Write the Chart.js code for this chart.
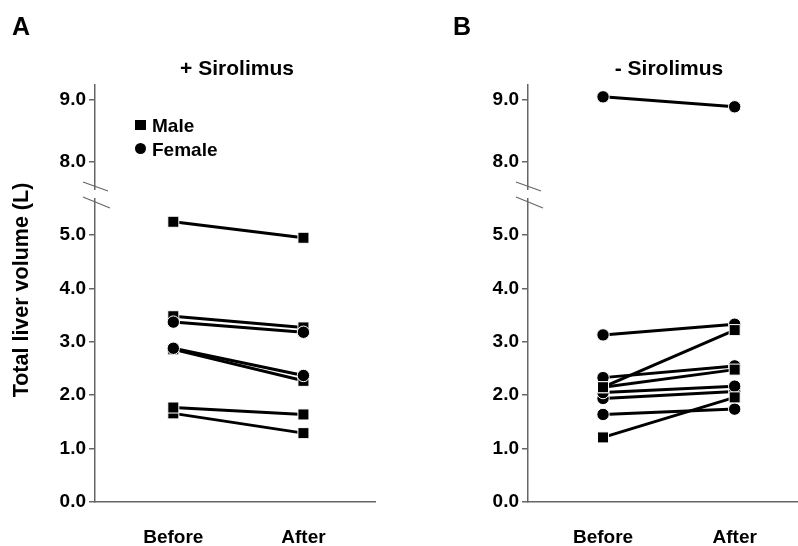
<!DOCTYPE html>
<html><head><meta charset="utf-8">
<script src="https://cdn.jsdelivr.net/npm/chart.js@4.4.0/dist/chart.umd.min.js"></script>
<style>
html,body{margin:0;padding:0;background:#fff;}
#wrap{position:relative;width:798px;height:546px;overflow:hidden;font-family:"Liberation Sans",Arial,sans-serif;font-weight:bold;color:#000;}
canvas{position:absolute;top:0;}
.t{position:absolute;white-space:nowrap;line-height:1;transform:translate(-50%,-50%);}
.l{position:absolute;white-space:nowrap;line-height:1;transform:translateY(-50%);}
</style></head><body>
<div id="wrap">
<canvas id="cA" width="400" height="546" style="left:0px"></canvas>
<canvas id="cB" width="406" height="546" style="left:400px"></canvas>
<div class="t" style="left:21px;top:26px;font-size:25px">A</div>
<div class="t" style="left:462px;top:26px;font-size:25px">B</div>
<div class="t" style="left:237px;top:67px;font-size:21px">+ Sirolimus</div>
<div class="t" style="left:669px;top:67px;font-size:21px">- Sirolimus</div>
<div class="t" style="left:22px;top:290px;font-size:21.5px;transform:translate(-50%,-50%) rotate(-90deg)">Total liver volume (L)</div>
<div style="position:absolute;left:135px;top:120px;width:11px;height:10px;background:#000"></div>
<div style="position:absolute;left:135px;top:143px;width:11px;height:11px;border-radius:50%;background:#000"></div>
<div class="l" style="left:152px;top:125px;font-size:19px">Male</div>
<div class="l" style="left:152px;top:148.5px;font-size:19px">Female</div>
</div>
<script>
// ---- data ----
const categories = ['Before', 'After'];
// + Sirolimus (panel A): [before, after] per patient
const sirolimusMale = [[5.25, 4.95], [3.48, 3.27], [2.86, 2.27], [1.77, 1.64], [1.66, 1.29]];
const sirolimusFemale = [[3.37, 3.18], [2.88, 2.37]];
// - Sirolimus (panel B)
const noSirolimusMale = [[2.15, 3.22], [2.15, 2.48], [1.21, 1.96]];
const noSirolimusFemale = [[3.13, 3.33], [2.33, 2.55], [2.05, 2.17], [1.94, 2.07], [1.64, 1.74], [9.05, 8.89]];
// axis ticks
const lowTicks = [0, 1, 2, 3, 4, 5];
const highTicks = [8, 9];

const LOW_MAX = 5.77, HIGH_MIN = 7.49, HIGH_MAX = 9.24;
const FONT = {family: '"Liberation Sans", Arial, sans-serif', weight: 'bold', size: 19};
const AX = '#666';

const breakPlugin = {
  id: 'axisBreak',
  afterDraw(chart) {
    const ctx = chart.ctx, x = chart.chartArea.left;
    const s = chart.scales.yLow.top;
    ctx.save();
    ctx.fillStyle = '#fff';
    ctx.fillRect(x - 3, s - 4, 6, 8);
    ctx.strokeStyle = AX; ctx.lineWidth = 1.2;
    ctx.beginPath();
    ctx.moveTo(x - 12, s - 12); ctx.lineTo(x + 13, s - 3);
    ctx.moveTo(x - 12, s + 3); ctx.lineTo(x + 15, s + 14);
    ctx.stroke();
    ctx.restore();
  }
};

function makeChart(id, male, female, cfg) {
  const datasets = [];
  const add = (pairs, style, r, ord) => pairs.forEach(p => {
    datasets.push({
      data: categories.map((c, i) => ({x: i, y: p[i]})),
      yAxisID: p[0] > 6 ? 'yHigh' : 'yLow',
      order: ord,
      borderColor: '#000', backgroundColor: '#000', borderWidth: 3,
      pointStyle: style, pointRadius: r, pointBackgroundColor: '#000',
      pointBorderColor: '#fff', pointBorderWidth: 1, clip: false
    });
  });
  add(male, 'rect', 7.8, cfg.femaleTop ? 2 : 1);
  add(female, 'circle', 6.2, cfg.femaleTop ? 1 : 2);
  const yCommon = (ticks) => ({
    type: 'linear', position: 'left', stack: 'y',
    afterBuildTicks: s => { s.ticks = ticks.map(v => ({value: v})); },
    ticks: {callback: v => Number(v).toFixed(1), font: FONT, color: '#000', padding: 3},
    grid: {drawOnChartArea: false, drawTicks: true, tickLength: 6, color: AX, lineWidth: 1.5},
    border: {display: true, color: AX, width: 1.5},
    afterFit: s => { s.width = cfg.yw; }
  });
  return new Chart(document.getElementById(id), {
    type: 'line',
    data: {datasets},
    options: {
      responsive: false, animation: false, events: [], devicePixelRatio: 1,
      layout: {padding: {top: 85, right: cfg.pr, bottom: 0, left: 0}},
      plugins: {legend: {display: false}, tooltip: {enabled: false}},
      scales: {
        x: {
          type: 'linear', min: cfg.xmin, max: cfg.xmax,
          afterBuildTicks: s => { s.ticks = categories.map((c, i) => ({value: i})); },
          ticks: {callback: v => categories[v], font: FONT, color: '#000', padding: 16, maxRotation: 0, autoSkip: false},
          grid: {display: false},
          border: {display: true, color: AX, width: 1.5},
          afterFit: s => { s.height = 44; }
        },
        yLow: Object.assign(yCommon(lowTicks), {min: 0, max: LOW_MAX, stackWeight: 308}),
        yHigh: Object.assign(yCommon(highTicks), {min: HIGH_MIN, max: HIGH_MAX, stackWeight: 109})
      }
    },
    plugins: [breakPlugin]
  });
}

makeChart('cA', sirolimusMale, sirolimusFemale, {yw: 95, pr: 25, xmin: -0.602, xmax: 1.55, femaleTop: true});
makeChart('cB', noSirolimusMale, noSirolimusFemale, {yw: 128, pr: 0, xmin: -0.57, xmax: 1.475, femaleTop: false});
</script>
</body></html>
